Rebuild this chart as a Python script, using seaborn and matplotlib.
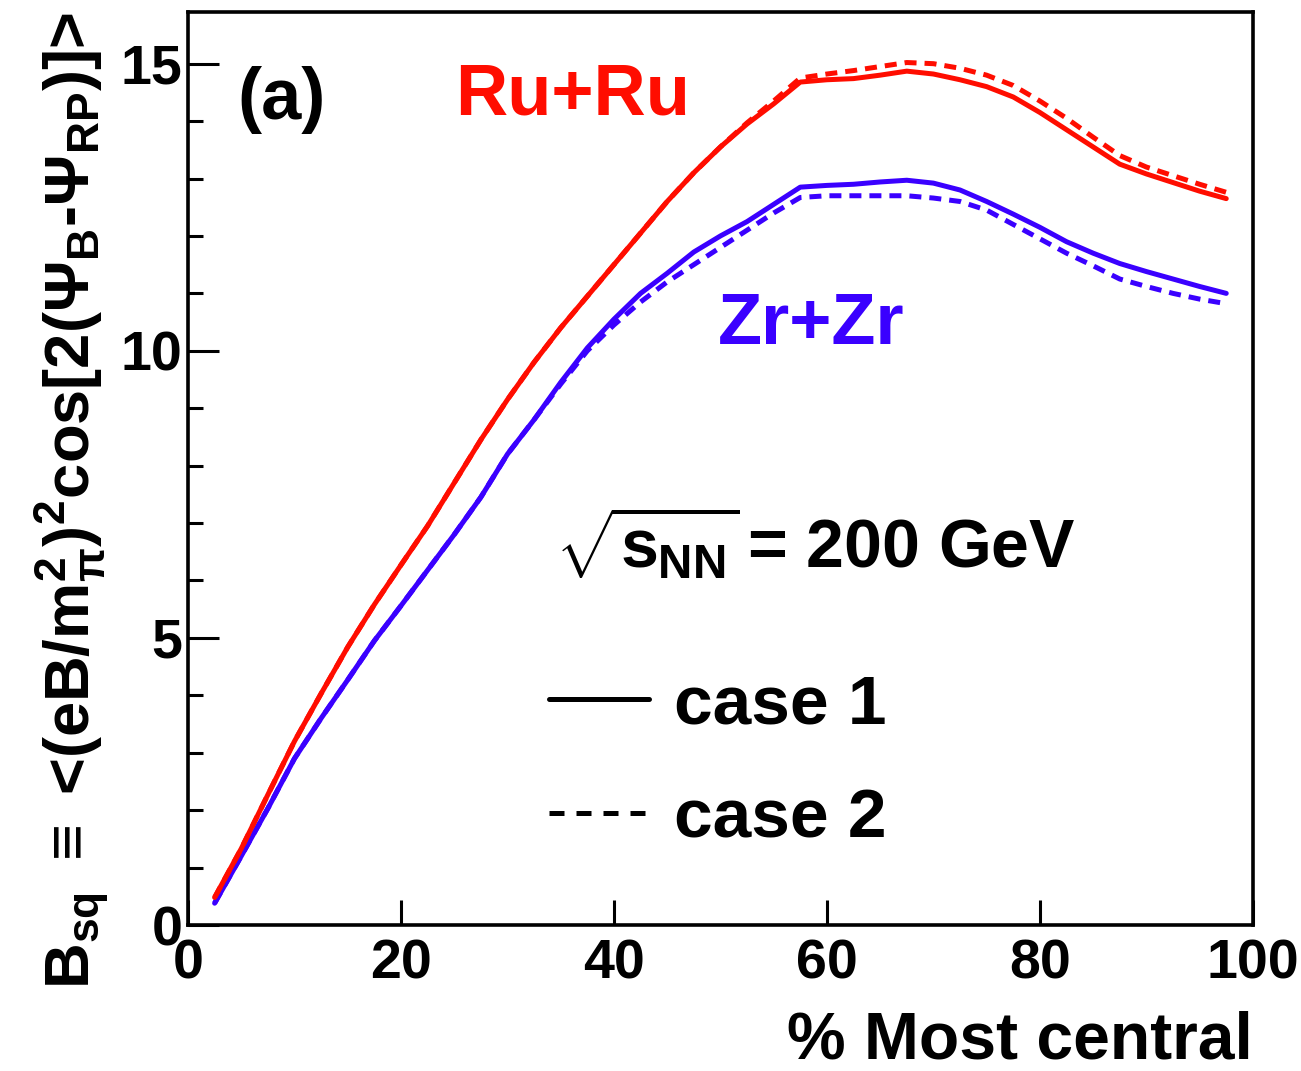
import pandas as pd
import matplotlib.pyplot as plt
import seaborn as sns
from matplotlib.lines import Line2D
from matplotlib.ticker import MultipleLocator

# % most central
centrality = [2.5, 5, 7.5, 10, 12.5, 15, 17.5, 20, 22.5, 25, 27.5, 30, 32.5,
              35, 37.5, 40, 42.5, 45, 47.5, 50, 52.5, 55, 57.5, 60, 62.5, 65,
              67.5, 70, 72.5, 75, 77.5, 80, 82.5, 85, 87.5, 90, 92.5, 95, 97.5]

ru_case1 = [0.48, 1.33, 2.27, 3.2, 4.03, 4.84, 5.58, 6.27, 6.95, 7.7, 8.45,
            9.15, 9.8, 10.4, 10.95, 11.5, 12.05, 12.6, 13.1, 13.55, 13.95,
            14.3, 14.68, 14.72, 14.74, 14.8, 14.87, 14.82, 14.72, 14.6, 14.42,
            14.15, 13.85, 13.55, 13.25, 13.08, 12.93, 12.78, 12.65]
ru_case2 = [0.48, 1.33, 2.27, 3.2, 4.03, 4.84, 5.58, 6.27, 6.95, 7.7, 8.45,
            9.15, 9.8, 10.4, 10.95, 11.5, 12.05, 12.6, 13.1, 13.55, 13.97,
            14.35, 14.75, 14.82, 14.88, 14.95, 15.02, 15.0, 14.92, 14.8, 14.62,
            14.35, 14.05, 13.72, 13.4, 13.2, 13.05, 12.9, 12.76]
zr_case1 = [0.38, 1.2, 2.03, 2.9, 3.6, 4.27, 4.95, 5.56, 6.18, 6.8, 7.45,
            8.2, 8.8, 9.45, 10.05, 10.55, 11.0, 11.35, 11.72, 12.0, 12.25,
            12.55, 12.85, 12.88, 12.9, 12.94, 12.97, 12.92, 12.8, 12.6, 12.38,
            12.15, 11.9, 11.7, 11.52, 11.38, 11.25, 11.12, 11.0]
zr_case2 = [0.38, 1.2, 2.03, 2.9, 3.6, 4.27, 4.95, 5.56, 6.18, 6.8, 7.45,
            8.2, 8.8, 9.42, 10.0, 10.45, 10.85, 11.2, 11.5, 11.8, 12.1,
            12.4, 12.67, 12.7, 12.7, 12.7, 12.7, 12.66, 12.6, 12.45, 12.2,
            11.95, 11.7, 11.48, 11.25, 11.12, 11.0, 10.9, 10.82]

RED = "#ff0d00"
BLUE = "#3a00ff"

series = {("Zr+Zr", "case 1"): zr_case1, ("Zr+Zr", "case 2"): zr_case2,
          ("Ru+Ru", "case 1"): ru_case1, ("Ru+Ru", "case 2"): ru_case2}
df = pd.concat([pd.DataFrame({"centrality": centrality, "Bsq": vals,
                              "system": sys_, "case": case})
                for (sys_, case), vals in series.items()], ignore_index=True)

sns.set_style("ticks")
plt.rcParams["font.family"] = ["Liberation Sans", "DejaVu Sans"]
plt.rcParams["font.weight"] = "bold"
plt.rcParams["mathtext.fontset"] = "custom"
plt.rcParams["mathtext.rm"] = "Liberation Sans:bold"
plt.rcParams["mathtext.it"] = "Liberation Sans:bold"
plt.rcParams["mathtext.bf"] = "Liberation Sans:bold"
plt.rcParams["mathtext.sf"] = "Liberation Sans:bold"
for key in ["text.color", "axes.labelcolor", "xtick.color", "ytick.color",
            "axes.edgecolor"]:
    plt.rcParams[key] = "black"

fig = plt.figure(figsize=(13.01, 10.71), dpi=100)
ax = fig.add_axes([0.1445, 0.1363, 0.8185, 0.8525])

sns.lineplot(data=df, x="centrality", y="Bsq", hue="system", style="case",
             palette={"Ru+Ru": RED, "Zr+Zr": BLUE},
             dashes={"case 1": "", "case 2": (2.4, 1.6)},
             linewidth=3.6, errorbar=None, legend=False, ax=ax)

ax.set_xlim(0, 100)
ax.set_ylim(0, 15.9)
ax.xaxis.set_major_locator(MultipleLocator(20))
ax.yaxis.set_major_locator(MultipleLocator(5))
ax.yaxis.set_minor_locator(MultipleLocator(1))
ax.tick_params(axis="both", which="both", direction="in", width=2.2,
               labelsize=40, top=False, right=False)
ax.tick_params(axis="y", which="major", length=22, pad=4)
ax.tick_params(axis="y", which="minor", length=11)
ax.tick_params(axis="x", which="major", length=18, pad=10)
for s in ax.spines.values():
    s.set_linewidth(2.6)
    s.set_color("black")

ax.set_xlabel("% Most central", fontsize=47.5, fontweight="bold", loc="right")
ax.xaxis.set_label_coords(1.0, -0.094)
ax.xaxis.label.set_va("top")
ax.set_ylabel(r"B$_{sq}$ $\equiv$ <(eB/m$_{\pi}^{2}$)$^{2}$cos[2($\Psi_{B}$-$\Psi_{RP}$)]>",
              fontsize=45.5, fontweight="bold", loc="top")
ax.yaxis.set_label_coords(-0.072, 1.0)

ax.text(0.046, 0.904, "(a)", transform=ax.transAxes, fontsize=52,
        fontweight="bold", va="center")
ax.text(0.251, 0.909, "Ru+Ru", transform=ax.transAxes, fontsize=52,
        fontweight="bold", va="center", color=RED)
ax.text(0.498, 0.657, "Zr+Zr", transform=ax.transAxes, fontsize=52,
        fontweight="bold", va="center", color=BLUE)
ax.text(0.345, 0.391, r"$\sqrt{s_{NN}}\,$= 200 GeV", transform=ax.transAxes,
        fontsize=49, fontweight="bold", va="baseline")

handles = [Line2D([], [], color="black", lw=3.6),
           Line2D([], [], color="black", lw=3.6, dashes=(3.0, 2.4))]
ax.legend(handles, ["case 1", "case 2"], loc="center left",
          bbox_to_anchor=(0.28, 0.1785), frameon=False, fontsize=50,
          handlelength=1.45, handletextpad=0.35, labelspacing=0.72)

fig.savefig("out.png", dpi=100)
